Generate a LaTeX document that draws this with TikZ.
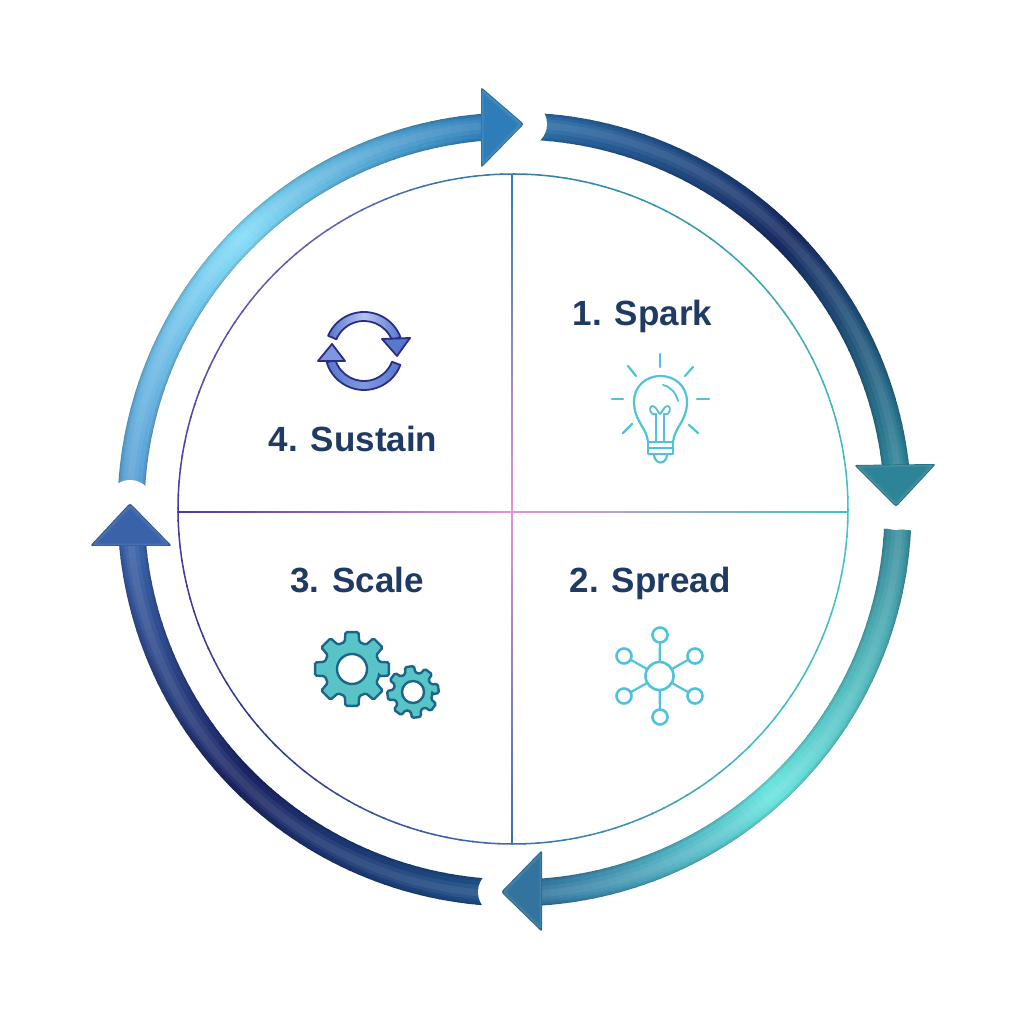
\documentclass[tikz,border=0pt]{standalone}
\usepackage{fontspec}
\setmainfont{Liberation Sans}
\usetikzlibrary{calc}
\definecolor{txt}{HTML}{1F3A63}
\definecolor{icn}{HTML}{4FC3D9}
\definecolor{nava}{HTML}{2A6CA5}
\definecolor{navb}{HTML}{182B63}
\definecolor{teala}{HTML}{2D8496}
\definecolor{tealb}{HTML}{3A8C9C}
\definecolor{turq}{HTML}{6AE4DE}
\definecolor{bluea}{HTML}{33749F}
\definecolor{navc}{HTML}{1D4F85}
\definecolor{navd}{HTML}{1B2462}
\definecolor{bluec}{HTML}{3A62A8}
\definecolor{skya}{HTML}{5A9FD4}
\definecolor{skyb}{HTML}{82DAF6}
\definecolor{skyc}{HTML}{2F7DB8}
\definecolor{pinkc}{HTML}{E193DA}
\definecolor{rt}{HTML}{2F7FA8}
\definecolor{rr}{HTML}{45C2C2}
\definecolor{rb}{HTML}{3A6FA8}
\definecolor{rl}{HTML}{4A3A9A}
\definecolor{ru}{HTML}{6A5AB5}
\definecolor{rd}{HTML}{2F3A8C}
\definecolor{rq}{HTML}{37A5B4}
\definecolor{rs}{HTML}{3FBCC4}
\definecolor{gearf}{HTML}{58C4C8}
\definecolor{gearl}{HTML}{1C6488}
\definecolor{syncl}{HTML}{2B2C84}
\definecolor{syncf}{HTML}{7F97DE}
\definecolor{synch}{HTML}{5878CC}
\definecolor{syncp}{HTML}{B4C4F0}
% radius, width, start, end, colA, colB, slices, modifier; centre in (\cx,\cy)
\newcommand\gradarc[8]{%
  \foreach \i in {1,...,#7}{%
    \pgfmathsetmacro\tt{100-100*(\i-0.5)/#7}%
    \pgfmathsetmacro\aa{#3+(#4-#3)*(\i-1)/#7}%
    \pgfmathsetmacro\ab{#3+(#4-#3)*(\i+0.15)/#7}%
    \colorlet{sl}{#5!\tt!#6}%
    \draw[line width=#2pt,color=#8] (\cx,\cy) ++(\aa:#1) arc[start angle=\aa,end angle=\ab,radius=#1];
  }%
}
\newcommand\headtri[4]{%
  \coordinate (h1) at (#1);\coordinate (h2) at (#2);\coordinate (h3) at (#3);
  \coordinate (hc) at ($1/3*(h1)+1/3*(h2)+1/3*(h3)$);
  \fill[#4!85!black,rounded corners=2.5pt] (h1)--(h2)--(h3)--cycle;
  \fill[#4!90!white,rounded corners=2.5pt] ($(hc)!.95!(h1)$)--($(hc)!.95!(h2)$)--($(hc)!.95!(h3)$)--cycle;
  \fill[#4!95!white,rounded corners=2.5pt] ($(hc)!.88!(h1)$)--($(hc)!.88!(h2)$)--($(hc)!.88!(h3)$)--cycle;
  \fill[#4,rounded corners=2.5pt] ($(hc)!.8!(h1)$)--($(hc)!.8!(h2)$)--($(hc)!.8!(h3)$)--cycle;
}
\newcommand\gearpath[4]{% root, outer, rotation, hole
  (#3-15:#1) foreach \k in {0,...,7}{
    -- ({#3+45*\k-15}:#1) -- ({#3+45*\k-10}:#2) -- ({#3+45*\k+10}:#2) -- ({#3+45*\k+15}:#1)
  } -- cycle (0,0) circle[radius=#4]
}
\tikzset{
  px/.style={shift={(0,1024)},yscale=-1},
  icon/.style={draw=icn,line cap=round,line join=round,line width=2.2pt},
  hubdot/.style={icon,line width=2.6pt,circle,inner sep=0pt,outer sep=0pt},
  label/.style={text=txt,font=\fontsize{35}{38}\selectfont\bfseries,inner sep=0pt,anchor=base},
  gear/.style={fill=gearf,draw=gearl,line width=2.4pt,even odd rule,rounded corners=1.5pt},
  sync/.style={draw=syncl,line width=1.8pt,line join=round}
}
\begin{document}
\begin{tikzpicture}[x=1pt,y=1pt]
\useasboundingbox (0,0) rectangle (1024,1024);
\fill[white] (0,0) rectangle (1024,1024);
% ---- arrow bands
\def\cx{514.5}\def\cy{514.5}
\foreach \rr/\ww/\mm in {383.5/27/sl!82!black,383.5/25/sl!92!black,383.5/21/sl,384.5/14/sl!94!white,385/7/sl!88!white}{
  \gradarc{\rr}{\ww}{86}{45}{nava}{navb}{30}{\mm}
  \gradarc{\rr}{\ww}{45}{6}{navb}{teala}{30}{\mm}
  \gradarc{\rr}{\ww}{-3}{-48}{tealb}{turq}{30}{\mm}
  \gradarc{\rr}{\ww}{-48}{-86}{turq}{bluea}{30}{\mm}
  \gradarc{\rr}{\ww}{266}{225}{navc}{navd}{30}{\mm}
  \gradarc{\rr}{\ww}{225}{184.5}{navd}{bluec}{30}{\mm}
  \gradarc{\rr}{\ww}{176.5}{135}{skya}{skyb}{30}{\mm}
  \gradarc{\rr}{\ww}{135}{94}{skyb}{skyc}{30}{\mm}
}
\begin{scope}[px]
  \fill[white] (524,124) circle[radius=23];
  \fill[white] (896,507) circle[radius=23];
  \fill[white] (501,892) circle[radius=23];
  \fill[white] (130,503) circle[radius=23];
  \headtri{481,87}{524,124}{481,168}{skyc}
  \headtri{854,465}{936,464}{896,507}{teala}
  \headtri{542,850}{501,892}{542,932}{bluea}
  \headtri{90,546}{130,503}{172,546}{bluec}
\end{scope}
% ---- inner ring
\def\cx{513}\def\cy{515}
\gradarc{335}{1.5}{90}{45}{rt}{rq}{20}{sl}
\gradarc{335}{1.5}{45}{0}{rq}{rr}{20}{sl}
\gradarc{335}{1.5}{0}{-45}{rr}{rs}{20}{sl}
\gradarc{335}{1.5}{-45}{-90}{rs}{rb}{20}{sl}
\gradarc{335}{1.5}{-90}{-135}{rb}{rd}{20}{sl}
\gradarc{335}{1.5}{-135}{-180}{rd}{rl}{20}{sl}
\gradarc{335}{1.5}{-180}{-225}{rl}{ru}{20}{sl}
\gradarc{335}{1.5}{-225}{-270}{ru}{rt}{20}{sl}
% ---- quadrant lines
\foreach \i in {1,...,30}{
  \pgfmathsetmacro\tt{100-100*(\i-0.5)/30}
  \colorlet{sa}{pinkc!\tt!rt}\draw[sa,line width=1.5pt] (512,{512+(\i-1)*11.23})--(512,{512+\i*11.23+0.3});
  \colorlet{sa}{pinkc!\tt!rb}\draw[sa,line width=1.5pt] (512,{512-(\i-1)*11.03})--(512,{512-\i*11.03-0.3});
  \colorlet{sa}{pinkc!\tt!rr}\draw[sa,line width=1.5pt] ({512+(\i-1)*11.2},512)--({512+\i*11.2+0.3},512);
  \colorlet{sa}{pinkc!\tt!rl}\draw[sa,line width=1.5pt] ({512-(\i-1)*11.17},512)--({512-\i*11.17-0.3},512);
}
\begin{scope}[px]
  \node[label] (spark) at (642.5,325.5) {1. Spark};
  \node[label] (spread) at (650,593) {2. Spread};
  \node[label] (scale) at (357,593) {3. Scale};
  \node[label] (sustain) at (353,451.5) {4. Sustain};
  % bulb
  \draw[icon] (648,442) .. controls (647,428) and (634,421) .. (634,402)
     .. controls (634,386) and (646,376) .. (660.5,376)
     .. controls (675,376) and (687,386) .. (687,402)
     .. controls (687,421) and (674,428) .. (673,442);
  \draw[icon,line width=1.8pt] (663,385) .. controls (671,387) and (676,393) .. (678,401);
  \foreach \a/\b/\c/\d in {660/354/660/367,628/366/636/376,693/367/685/376,612/399/623/399,697/399/709/399,623/433/632/424,698/433/689/425}
    \draw[icon] (\a,\b)--(\c,\d);
  \draw[icon,line width=1.8pt] (656,442)--(656,414) .. controls (649,416) and (649,406) .. (652,406) .. controls (656,406) and (657,411) .. (660,414) .. controls (663,411) and (664,406) .. (668,406) .. controls (671,406) and (671,416) .. (664,414) -- (664,442);
  \draw[icon] (648,442)--(673,442) (648,442)--(648,454)--(673,454)--(673,442) (648,448)--(673,448);
  \draw[icon] (654,455) .. controls (655,465) and (666,465) .. (667,455);
  % network
  \node[hubdot,minimum size=28pt] (hub) at (659.5,676) {};
  \foreach \n/\x/\y in {a/660/635,b/695/656,c/695/696,d/660/717,e/624/696,f/624/656}{
    \node[hubdot,minimum size=15pt] (sat\n) at (\x,\y) {};
    \draw[icon] (hub)--(sat\n);
  }
\end{scope}
% gears
\begin{scope}[shift={(352,355)}]
  \draw[gear] \gearpath{28}{37.5}{0}{15};
\end{scope}
\begin{scope}[shift={(413,332)}]
  \draw[gear] \gearpath{19.5}{26}{8}{11};
\end{scope}
% sync icon
\begin{scope}[shift={(364,673)}]
  \draw[sync,left color=synch,right color=synch,middle color=syncp] (157:39) arc[start angle=157,end angle=21,radius=39] -- (21:30) arc[start angle=21,end angle=157,radius=30] -- cycle;
  \draw[sync,left color=synch,right color=synch,middle color=syncf] (-21:39) arc[start angle=-21,end angle=-163,radius=39] -- (-163:30) arc[start angle=-163,end angle=-21,radius=30] -- cycle;
\end{scope}
\begin{scope}[px]
  \draw[sync,fill=synch] (382,339)--(410,338)--(397,356)--cycle;
  \draw[sync,fill=syncf] (318,361)--(345,361)--(332,344)--cycle;
\end{scope}
\end{tikzpicture}
\end{document}
